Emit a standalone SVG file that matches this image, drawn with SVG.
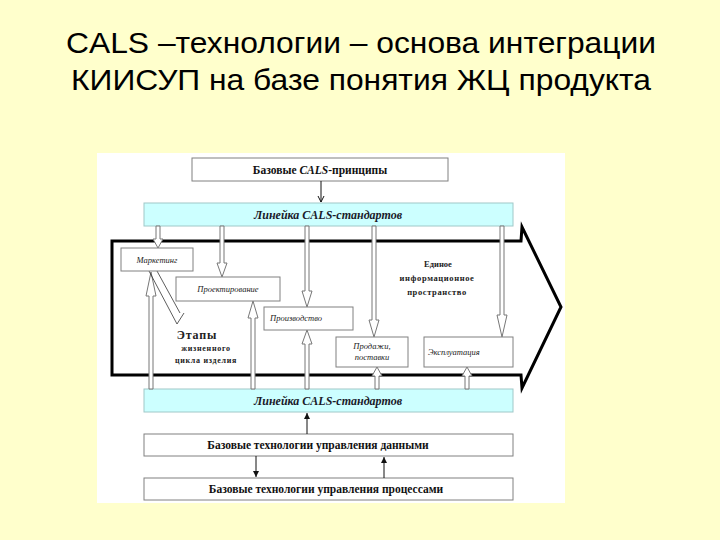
<svg xmlns="http://www.w3.org/2000/svg" width="720" height="540" viewBox="0 0 720 540">
<style>
.title{font-family:"Liberation Sans",Arial,sans-serif;font-size:30px;fill:#000}
.box{fill:#fff;stroke:#808080;stroke-width:1}
.bar{fill:#ccffff;stroke:#a0c8c8;stroke-width:1}
.bt{font-family:"Liberation Serif","Times New Roman",serif;font-weight:bold;font-size:11.5px;fill:#111}
.it{font-family:"Liberation Serif","Times New Roman",serif;font-style:italic;font-weight:bold;font-size:12px;fill:#1a1a2a}
.st{font-family:"Liberation Serif","Times New Roman",serif;font-style:italic;font-size:8.5px;fill:#222}
.sb{font-family:"Liberation Serif","Times New Roman",serif;font-weight:bold;font-size:8.5px;fill:#222}
.ha{fill:#fff;stroke:#777;stroke-width:1}
.thin{stroke:#111;stroke-width:1;fill:none}
</style>
<defs>
<marker id="open" markerWidth="8" markerHeight="8" refX="7" refY="4" orient="auto" markerUnits="userSpaceOnUse">
<path d="M1,1 L7,4 L1,7" fill="none" stroke="#111" stroke-width="1"/>
</marker>
<marker id="fill" markerWidth="7" markerHeight="6" refX="6" refY="3" orient="auto" markerUnits="userSpaceOnUse">
<path d="M0,0 L6,3 L0,6 z" fill="#111"/>
</marker>
</defs>
<rect x="0" y="0" width="720" height="540" fill="#ffffcc"/>
<text class="title" x="361" y="53" text-anchor="middle" textLength="590" lengthAdjust="spacingAndGlyphs">CALS –технологии – основа интеграции</text>
<text class="title" x="361" y="90" text-anchor="middle" textLength="580" lengthAdjust="spacingAndGlyphs">КИИСУП на базе понятия ЖЦ продукта</text>
<rect x="97" y="153" width="468" height="350" fill="#fff"/>

<g id="big-arrow">
<path d="M112,241 L521,241 L522,227 L561,307 L522,388 L521,375 L112,375 Z" fill="none" stroke="#000" stroke-width="3" stroke-linejoin="miter"/>
</g>

<g id="node-principles">
<rect class="box" x="192" y="158" width="256" height="23"/>
<text class="bt" x="320" y="174" text-anchor="middle">Базовые <tspan font-style="italic">CALS</tspan>-принципы</text>
</g>
<g id="node-lineyka-top">
<rect class="bar" x="144" y="203" width="369" height="23"/>
<text class="it" x="328" y="219" text-anchor="middle">Линейка CALS-стандартов</text>
</g>
<g id="node-lineyka-bottom">
<rect class="bar" x="144" y="389" width="369" height="23"/>
<text class="it" x="328" y="405" text-anchor="middle">Линейка CALS-стандартов</text>
</g>
<g id="node-data">
<rect class="box" x="144" y="434" width="369" height="22" stroke="#bbb"/>
<text class="bt" x="318" y="449" text-anchor="middle">Базовые технологии управления данными</text>
</g>
<g id="node-processes">
<rect class="box" x="144" y="478" width="369" height="22" stroke="#bbb"/>
<text class="bt" x="326" y="493" text-anchor="middle">Базовые технологии управления процессами</text>
</g>

<g id="connectors">
<path class="ha" d="M156,226 V239 H153 L158,248 L163,239 H160 V226 Z"/>
<path class="ha" d="M220,226 V263 H217 L222,277 L227,263 H224 V226 Z"/>
<path class="ha" d="M305,226 V291 H302 L307,307 L312,291 H309 V226 Z"/>
<path class="ha" d="M372,226 V320 H369 L374,337 L379,320 H376 V226 Z"/>
<path class="ha" d="M500,226 V315 H497 L502,337 L507,315 H504 V226 Z"/>
<path class="ha" d="M149,389 V296 H146 L151,272 L156,296 H153 V389 Z"/>
<path class="ha" d="M251,389 V318 H248 L253,301 L258,318 H255 V389 Z"/>
<path class="ha" d="M305,389 V344 H302 L307,330 L312,344 H309 V389 Z"/>
<path class="ha" d="M375,389 V376 H372 L377,367 L382,376 H379 V389 Z"/>
<path class="ha" d="M465,389 V376 H462 L467,367 L472,376 H469 V389 Z"/>
<line class="thin" x1="321" y1="181" x2="321" y2="202" marker-end="url(#open)"/>
<line class="thin" x1="307" y1="434" x2="307" y2="413" marker-end="url(#fill)"/>
<line class="thin" x1="256" y1="456" x2="256" y2="477" marker-end="url(#fill)"/>
<line class="thin" x1="384" y1="478" x2="384" y2="457" marker-end="url(#fill)"/>
<polyline points="149,271 177,324 184,313" fill="none" stroke="#333" stroke-width="0.8"/>
<line x1="157" y1="271" x2="180" y2="313" stroke="#333" stroke-width="0.8"/>
</g>

<g id="node-marketing">
<rect class="box" x="121" y="248" width="72" height="23"/>
<text class="st" x="157" y="263" text-anchor="middle">Маркетинг</text>
</g>
<g id="node-design">
<rect class="box" x="176" y="277" width="104" height="24"/>
<text class="st" x="228" y="292" text-anchor="middle">Проектирование</text>
</g>
<g id="node-production">
<rect class="box" x="264" y="307" width="89" height="23"/>
<text class="st" x="296" y="321" text-anchor="middle">Производство</text>
</g>
<g id="node-sales">
<rect class="box" x="336" y="337" width="72" height="30"/>
<text class="st" x="372" y="349" text-anchor="middle">Продажи,</text>
<text class="st" x="372" y="360" text-anchor="middle">поставки</text>
</g>
<g id="node-operation">
<rect class="box" x="424" y="337" width="89" height="30"/>
<text class="st" x="428" y="355">Эксплуатация</text>
</g>
<g id="label-space">
<text class="sb" x="438" y="267" text-anchor="middle">Единое</text>
<text class="sb" x="437" y="281" text-anchor="middle" style="letter-spacing:0.6px">информационное</text>
<text class="sb" x="437" y="295" text-anchor="middle" style="letter-spacing:0.6px">пространство</text>
</g>
<g id="label-stages">
<text class="sb" x="197" y="339" text-anchor="middle" style="font-size:12px;letter-spacing:0.8px">Этапы</text>
<text class="sb" x="206" y="351" text-anchor="middle" style="font-size:8px;letter-spacing:0.7px">жизненного</text>
<text class="sb" x="206" y="363" text-anchor="middle" style="font-size:8px;letter-spacing:0.7px">цикла изделия</text>
</g>
</svg>
